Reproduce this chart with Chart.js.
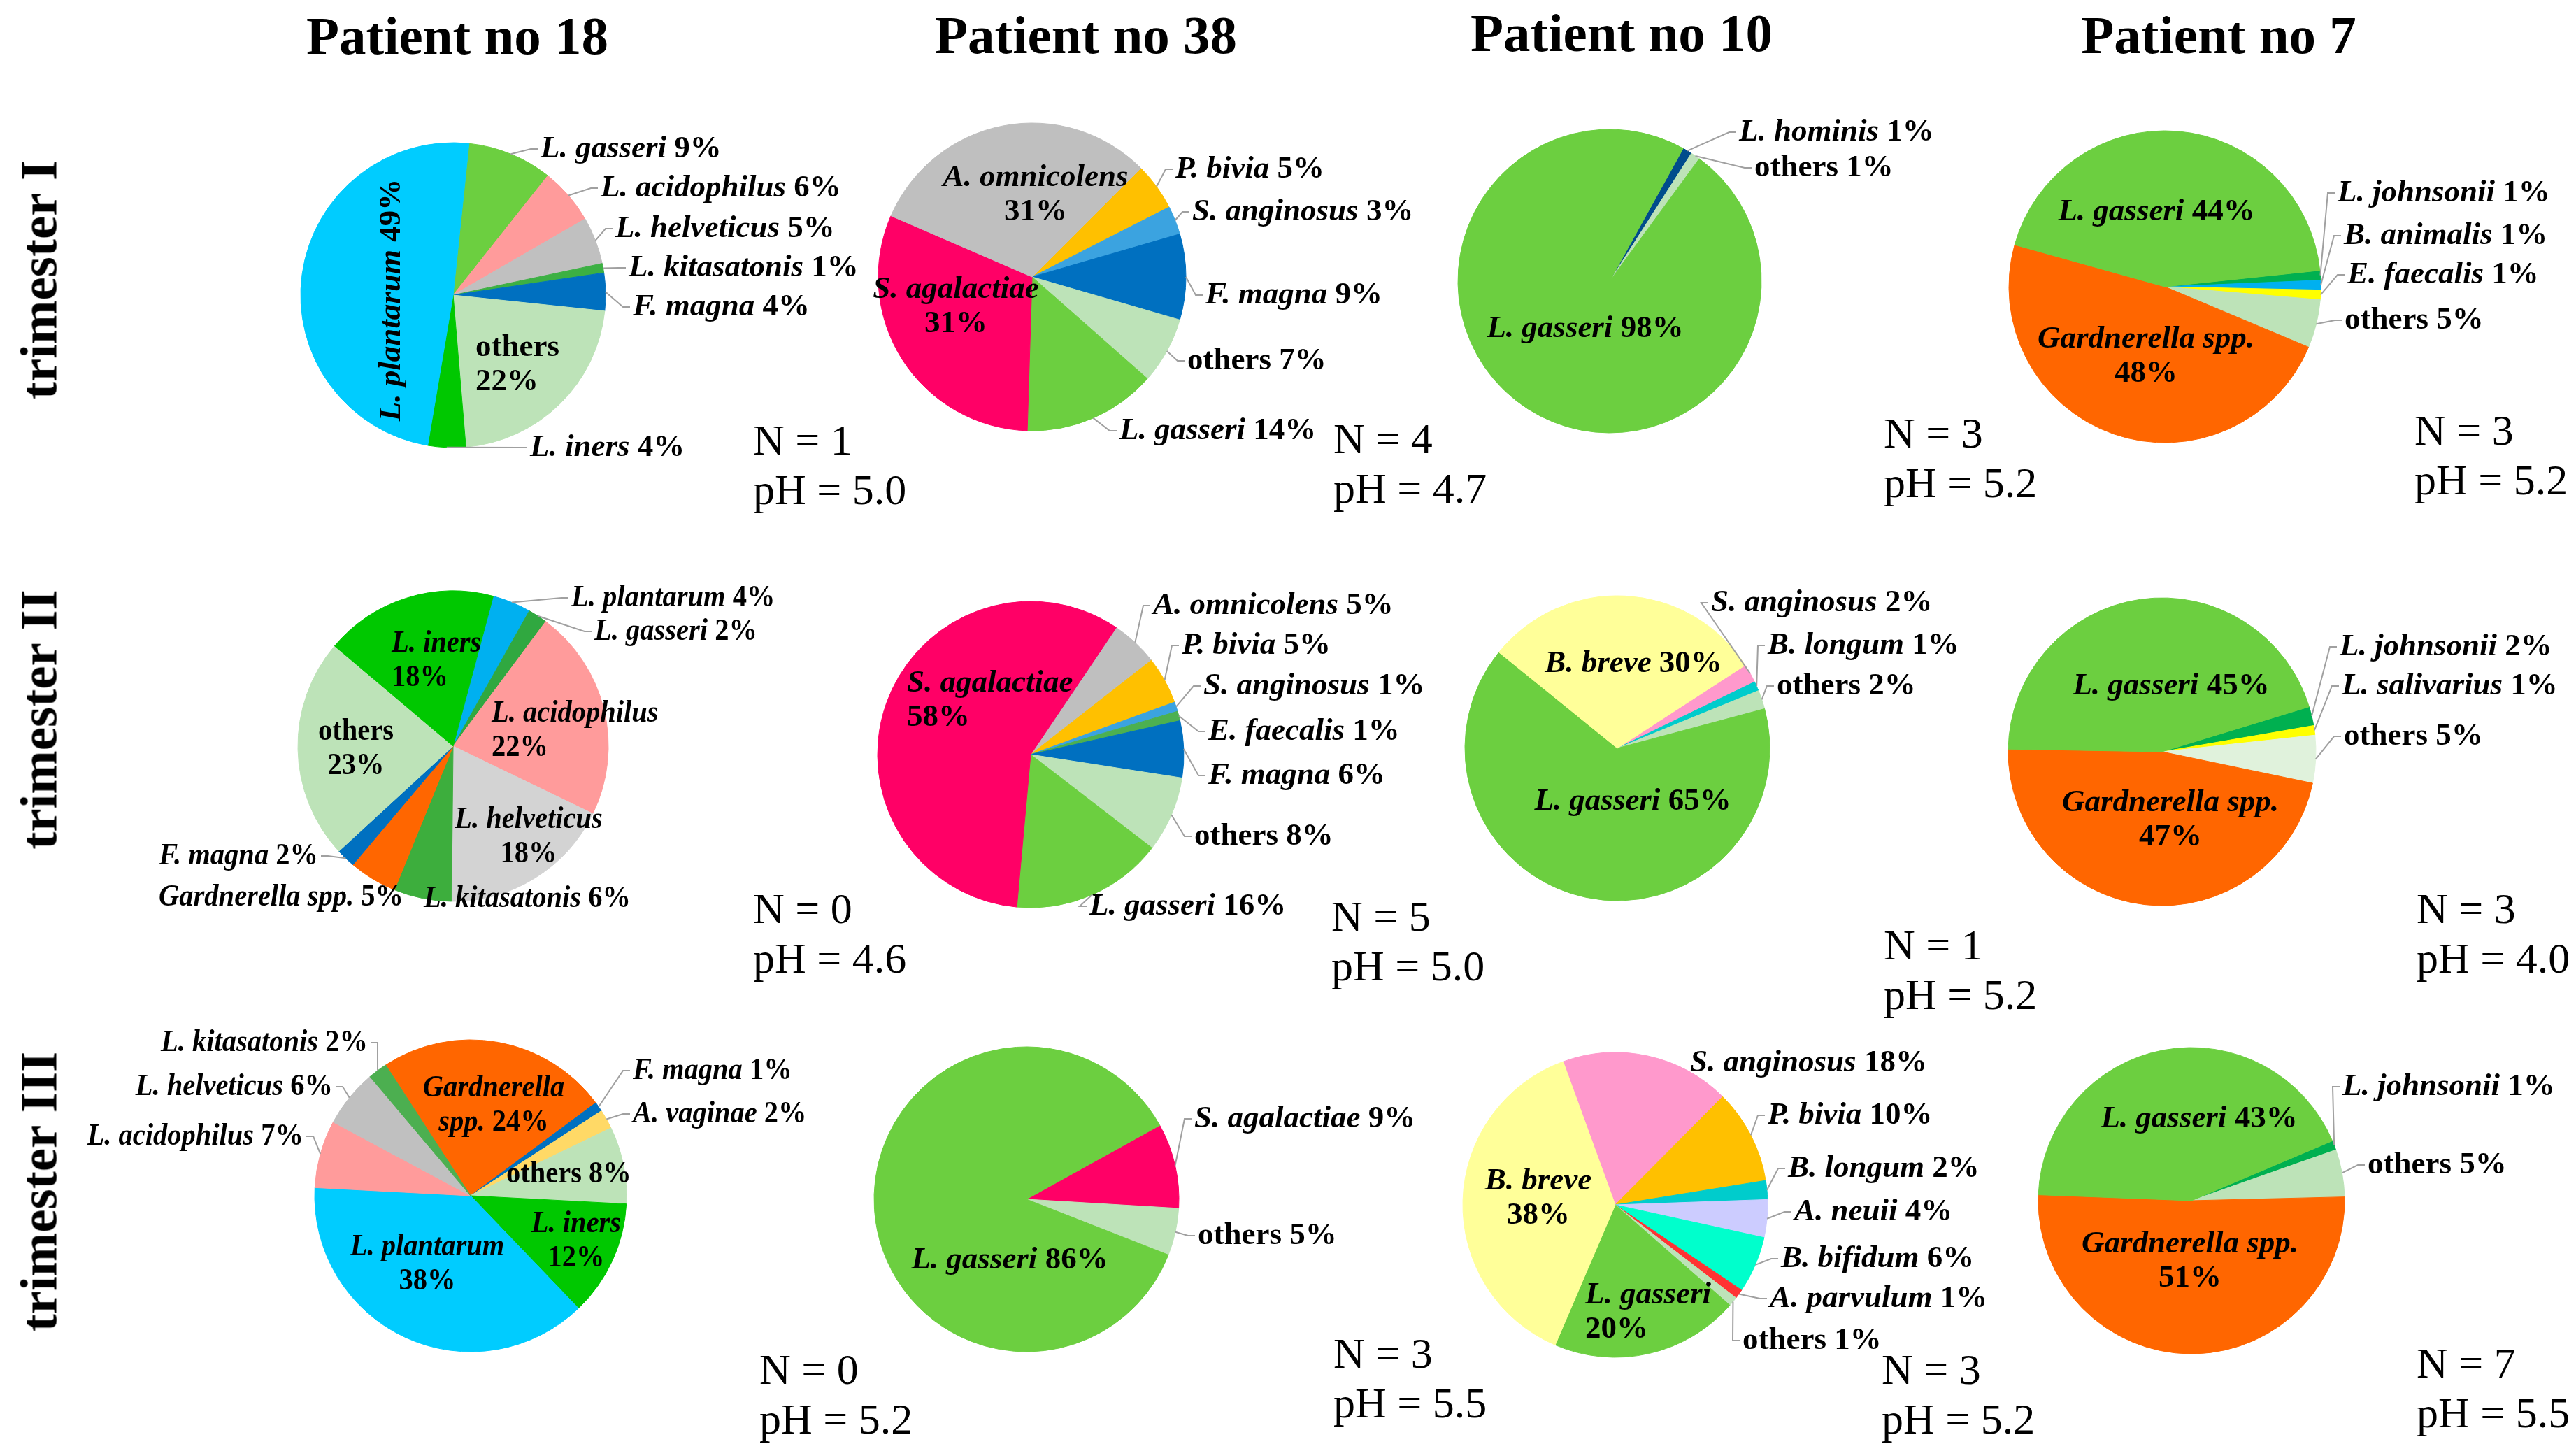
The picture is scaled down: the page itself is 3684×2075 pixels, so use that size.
<!DOCTYPE html>
<html>
<head>
<meta charset="utf-8">
<script src="https://cdn.jsdelivr.net/npm/chart.js@4.4.1/dist/chart.umd.min.js"></script>
<style>
  html, body { margin: 0; padding: 0; background: #fff; }
  #page { position: relative; width: 3684px; height: 2075px; overflow: hidden; background: #fff;
          font-family: "Liberation Serif", "Times New Roman", serif; color: #000; }
  canvas { position: absolute; }
  .title { position: absolute; font-weight: bold; font-size: 77px; line-height: 77px; white-space: nowrap;
           transform: translateX(-50%); z-index: 5; }
  .row { position: absolute; font-weight: bold; font-size: 75px; line-height: 75px; white-space: nowrap;
         transform: translate(-50%, -50%) rotate(-90deg); z-index: 5; }
  .note { position: absolute; font-size: 62px; line-height: 71px; white-space: nowrap; z-index: 5; }
</style>
</head>
<body>
<div id="page"></div>
<script>
// Column / row headers
const patients = ['Patient no 18', 'Patient no 38', 'Patient no 10', 'Patient no 7'];
const trimesters = ['trimester I', 'trimester II', 'trimester III'];

// N and pH per trimester (rows) and patient (columns)
const nCounts = [[1, 4, 3, 3], [0, 5, 1, 3], [0, 3, 3, 7]];
const phValues = [['5.0', '4.7', '5.2', '5.2'], ['4.6', '5.0', '5.2', '4.0'], ['5.2', '5.5', '5.2', '5.5']];

// Trimester I
const t1p18Names = ['L. gasseri', 'L. acidophilus', 'L. helveticus', 'L. kitasatonis', 'F. magna', 'others', 'L. iners', 'L. plantarum'];
const t1p18Values = [9, 6, 5, 1, 4, 22, 4, 49];
const t1p38Names = ['P. bivia', 'S. anginosus', 'F. magna', 'others', 'L. gasseri', 'S. agalactiae', 'A. omnicolens'];
const t1p38Values = [5, 3, 9, 7, 14, 31, 31];
const t1p10Names = ['L. hominis', 'others', 'L. gasseri'];
const t1p10Values = [1, 1, 98];
const t1p7Names = ['L. johnsonii', 'B. animalis', 'E. faecalis', 'others', 'Gardnerella spp.', 'L. gasseri'];
const t1p7Values = [1, 1, 1, 5, 48, 44];

// Trimester II
const t2p18Names = ['L. plantarum', 'L. gasseri', 'L. acidophilus', 'L. helveticus', 'L. kitasatonis', 'Gardnerella spp.', 'F. magna', 'others', 'L. iners'];
const t2p18Values = [4, 2, 22, 18, 6, 5, 2, 23, 18];
const t2p38Names = ['A. omnicolens', 'P. bivia', 'S. anginosus', 'E. faecalis', 'F. magna', 'others', 'L. gasseri', 'S. agalactiae'];
const t2p38Values = [5, 5, 1, 1, 6, 8, 16, 58];
const t2p10Names = ['S. anginosus', 'B. longum', 'others', 'L. gasseri', 'B. breve'];
const t2p10Values = [2, 1, 2, 65, 30];
const t2p7Names = ['L. johnsonii', 'L. salivarius', 'others', 'Gardnerella spp.', 'L. gasseri'];
const t2p7Values = [2, 1, 5, 47, 45];

// Trimester III
const t3p18Names = ['Gardnerella spp.', 'F. magna', 'A. vaginae', 'others', 'L. iners', 'L. plantarum', 'L. acidophilus', 'L. helveticus', 'L. kitasatonis'];
const t3p18Values = [24, 1, 2, 8, 12, 38, 7, 6, 2];
const t3p38Names = ['S. agalactiae', 'others', 'L. gasseri'];
const t3p38Values = [9, 5, 86];
const t3p10Names = ['S. anginosus', 'P. bivia', 'B. longum', 'A. neuii', 'B. bifidum', 'A. parvulum', 'others', 'L. gasseri', 'B. breve'];
const t3p10Values = [18, 10, 2, 4, 6, 1, 1, 20, 38];
const t3p7Names = ['L. johnsonii', 'others', 'Gardnerella spp.', 'L. gasseri'];
const t3p7Values = [1, 5, 51, 43];

// colours
const GAS = '#6ccf40', OTH = '#bde3b8', MAG = '#0070c0', GARD = '#ff6600', AGA = '#ff0066';

// pies: centre, radius, start angle, colours, label placement [dx, dy, mode]
const pies = [
  { names: t1p18Names, values: t1p18Values, cx: 648, cy: 422, r: 218, rot: 6, sq: 1,
    colors: [GAS, '#ff9b9b', '#c0c0c0', '#3cb043', MAG, OTH, '#00c800', '#00ccff'],
    lab: [[125, -209, 'L'], [211, -153, 'L'], [232, -95, 'L'], [251, -39, 'L'], [257, 17, 'L'], [32, 75, 'l2'], [110, 218, 'L'], [-88, 7, 'v']] },
  { names: t1p38Names, values: t1p38Values, cx: 1476, cy: 396, r: 220, rot: 45, sq: 1,
    colors: ['#ffc000', '#3ba3e0', MAG, OTH, GAS, AGA, '#bfbfbf'],
    lab: [[205, -154, 'L'], [229, -93, 'L'], [248, 26, 'L'], [222, 120, 'L'], [125, 220, 'L'], [-109, 18, 'c2'], [5, -142, 'c2']] },
  { names: t1p10Names, values: t1p10Values, cx: 2302, cy: 402, r: 217, rot: 29, sq: 1,
    colors: ['#004c8c', OTH, GAS],
    lab: [[185, -213, 'L'], [207, -162, 'L'], [-35, 68, 'c']] },
  { names: t1p7Names, values: t1p7Values, cx: 3096, cy: 410, r: 223, rot: 84, sq: 1,
    colors: ['#00b050', '#00b0f0', '#ffff00', OTH, GARD, GAS],
    lab: [[247, -134, 'L'], [256, -73, 'L'], [261, -17, 'L'], [257, 48, 'L'], [-27, 75, 'c2'], [-12, -107, 'c']] },

  { names: t2p18Names, values: t2p18Values, cx: 648, cy: 1067, r: 222, rot: 15, sq: 0.9,
    colors: ['#00b0f0', '#30a840', '#ff9b9b', '#d3d3d3', '#3dae3d', GARD, MAG, OTH, '#00c800'],
    lab: [[169, -212, 'L'], [202, -164, 'L'], [55, -47, 'l2'], [108, 105, 'c2'], [-42, 218, 'l'], [-71, 216, 'r'], [-193, 157, 'R'], [-139, -21, 'c2'], [-88, -147, 'l2']] },
  { names: t2p38Names, values: t2p38Values, cx: 1474, cy: 1079, r: 219, rot: 34, sq: 1,
    colors: ['#bfbfbf', '#ffc000', '#3ba3e0', '#4cb050', MAG, OTH, GAS, AGA],
    lab: [[175, -213, 'L'], [216, -156, 'L'], [247, -98, 'L'], [254, -33, 'L'], [254, 30, 'L'], [234, 117, 'L'], [84, 217, 'L'], [-177, -102, 'l2']] },
  { names: t2p10Names, values: t2p10Values, cx: 2313, cy: 1070, r: 218, rot: 57, sq: 1,
    colors: ['#ff99cc', '#00cccc', OTH, GAS, '#ffff99'],
    lab: [[134, -208, 'L'], [215, -147, 'L'], [228, -89, 'L'], [22, 76, 'c'], [23, -121, 'c']] },
  { names: t2p7Names, values: t2p7Values, cx: 3092, cy: 1075, r: 220, rot: 73, sq: 1,
    colors: ['#00b050', '#ffff00', '#e0f2dc', GARD, GAS],
    lab: [[254, -150, 'L'], [257, -94, 'L'], [260, -22, 'L'], [12, 73, 'c2'], [13, -94, 'c']] },

  { names: t3p18Names, values: t3p18Values, cx: 673, cy: 1710, r: 223, rot: 327, sq: 0.9,
    colors: [GARD, MAG, '#ffd966', OTH, '#00c800', '#00ccff', '#ff9b9b', '#c0c0c0', '#4caf50'],
    lab: [[33, -154, 's2'], [232, -179, 'L'], [232, -117, 'L'], [51, -31, 'l'], [151, 40, 'c2'], [-62, 73, 'c2'], [-239, -85, 'R'], [-197, -156, 'R'], [-147, -219, 'R']] },
  { names: t3p38Names, values: t3p38Values, cx: 1468, cy: 1715, r: 218, rot: 61, sq: 1,
    colors: [AGA, OTH, GAS],
    lab: [[240, -115, 'L'], [245, 52, 'L'], [-24, 87, 'c']] },
  { names: t3p10Names, values: t3p10Values, cx: 2310, cy: 1723, r: 218, rot: 340, sq: 1,
    colors: ['#ff99cc', '#ffc000', '#00cccc', '#ccccff', '#00ffcc', '#ff3333', OTH, GAS, '#ffff99'],
    lab: [[107, -203, 'l'], [218, -128, 'L'], [247, -52, 'L'], [256, 10, 'L'], [237, 77, 'L'], [221, 134, 'L'], [182, 194, 'L'], [-43, 129, 'l2'], [-110, -34, 'c2']] },
  { names: t3p7Names, values: t3p7Values, cx: 3134, cy: 1717, r: 219, rot: 67, sq: 1,
    colors: ['#00b050', OTH, GARD, GAS],
    lab: [[216, -163, 'L'], [252, -51, 'L'], [-2, 62, 'c2'], [11, -117, 'c']] }
];

const titlePos = [[654, 13], [1553, 12], [2319, 9], [3173, 12]];
const rowPos = [[55, 400], [55, 1029], [55, 1704]];
const notePos = [
  [[1077, 630], [1907, 628], [2694, 620], [3453, 616]],
  [[1077, 1300], [1904, 1311], [2694, 1352], [3456, 1300]],
  [[1086, 1959], [1907, 1936], [2691, 1959], [3456, 1950]]
];

const page = document.getElementById('page');

patients.forEach((t, i) => {
  const d = document.createElement('div');
  d.className = 'title';
  d.textContent = t;
  d.style.left = titlePos[i][0] + 'px';
  d.style.top = titlePos[i][1] + 'px';
  page.appendChild(d);
});
trimesters.forEach((t, i) => {
  const d = document.createElement('div');
  d.className = 'row';
  d.textContent = t;
  d.style.left = rowPos[i][0] + 'px';
  d.style.top = rowPos[i][1] + 'px';
  page.appendChild(d);
});
nCounts.forEach((row, r) => row.forEach((n, c) => {
  const d = document.createElement('div');
  d.className = 'note';
  d.innerHTML = 'N = ' + n + '<br>pH = ' + phValues[r][c];
  d.style.left = notePos[r][c][0] + 'px';
  d.style.top = (notePos[r][c][1] - 36) + 'px';
  page.appendChild(d);
}));

// label drawing
const FONT = '"Liberation Serif", "Times New Roman", serif';
function fontOf(it) { return (it ? 'italic ' : '') + 'bold 45px ' + FONT; }

function drawParts(ctx, parts, x, y, align, sx) {
  let total = 0;
  parts.forEach(p => { ctx.font = fontOf(p.it); p.w = ctx.measureText(p.t).width * sx; total += p.w; });
  let px = align === 'left' ? x : align === 'right' ? x - total : x - total / 2;
  parts.forEach(p => {
    ctx.font = fontOf(p.it);
    ctx.save();
    ctx.translate(px, y);
    ctx.scale(sx, 1);
    ctx.fillText(p.t, 0, 0);
    ctx.restore();
    px += p.w;
  });
}

const sliceLabels = {
  id: 'sliceLabels',
  afterDatasetsDraw(chart, args, opts) {
    const ctx = chart.ctx;
    const meta = chart.getDatasetMeta(0);
    const names = chart.data.labels;
    const vals = chart.data.datasets[0].data;
    const sx = opts.squeeze || 1;
    ctx.save();
    ctx.fillStyle = '#000';
    ctx.textAlign = 'left';
    ctx.textBaseline = 'middle';
    meta.data.forEach((arc, i) => {
      const p = arc.getProps(['x', 'y', 'startAngle', 'endAngle', 'outerRadius'], true);
      const [dx, dy, mode] = opts.layout[i];
      const lx = p.x + dx, ly = p.y + dy;
      const name = names[i], pct = vals[i] + '%';
      const it = name !== 'others';

      // leader line from the slice edge to the label
      if (mode === 'L' || mode === 'R') {
        const mid = (p.startAngle + p.endAngle) / 2;
        const ex = p.x + p.outerRadius * Math.cos(mid);
        const ey = p.y + p.outerRadius * Math.sin(mid);
        const dir = mode === 'L' ? -1 : 1;
        ctx.strokeStyle = '#a0a0a0';
        ctx.lineWidth = 2;
        ctx.beginPath();
        ctx.moveTo(ex, ey);
        ctx.lineTo(lx + dir * 14, ly);
        ctx.lineTo(lx + dir * 4, ly);
        ctx.stroke();
      }

      const one = [{ t: name + ' ', it: it }, { t: pct, it: false }];
      if (mode === 'L' || mode === 'l') drawParts(ctx, one, lx, ly, 'left', sx);
      else if (mode === 'R' || mode === 'r') drawParts(ctx, one, lx, ly, 'right', sx);
      else if (mode === 'c') drawParts(ctx, one, lx, ly, 'center', sx);
      else if (mode === 'c2' || mode === 'l2') {
        const al = mode === 'c2' ? 'center' : 'left';
        drawParts(ctx, [{ t: name, it: it }], lx, ly, al, sx);
        drawParts(ctx, [{ t: pct, it: false }], lx, ly + 49, al, sx);
      } else if (mode === 's2') {
        const k = name.indexOf(' ');
        drawParts(ctx, [{ t: name.slice(0, k), it: true }], lx, ly, 'center', sx);
        drawParts(ctx, [{ t: name.slice(k + 1) + ' ', it: true }, { t: pct, it: false }], lx, ly + 49, 'center', sx);
      } else if (mode === 'v') {
        ctx.save();
        ctx.translate(lx, ly);
        ctx.rotate(-Math.PI / 2);
        drawParts(ctx, one, 0, 0, 'center', 1);
        ctx.restore();
      }
    });
    ctx.restore();
  }
};

// one chart per pie, canvas placed so the pie centre sits at (600, 360) in it
const CW = 1300, CH = 720;
pies.forEach(c => {
  const cv = document.createElement('canvas');
  cv.width = CW;
  cv.height = CH;
  cv.style.width = CW + 'px';
  cv.style.height = CH + 'px';
  cv.style.left = (c.cx - 600) + 'px';
  cv.style.top = (c.cy - 360) + 'px';
  page.appendChild(cv);

  new Chart(cv, {
    type: 'pie',
    data: {
      labels: c.names,
      datasets: [{ data: c.values, backgroundColor: c.colors, borderColor: c.colors, borderWidth: 1 }]
    },
    options: {
      responsive: false,
      animation: false,
      devicePixelRatio: 1,
      radius: c.r,
      rotation: c.rot,
      layout: { padding: { left: 0, right: 100, top: 0, bottom: 0 } },
      events: [],
      plugins: {
        legend: { display: false },
        tooltip: { enabled: false },
        sliceLabels: { layout: c.lab, squeeze: c.sq }
      }
    },
    plugins: [sliceLabels]
  });
});
</script>
</body>
</html>
